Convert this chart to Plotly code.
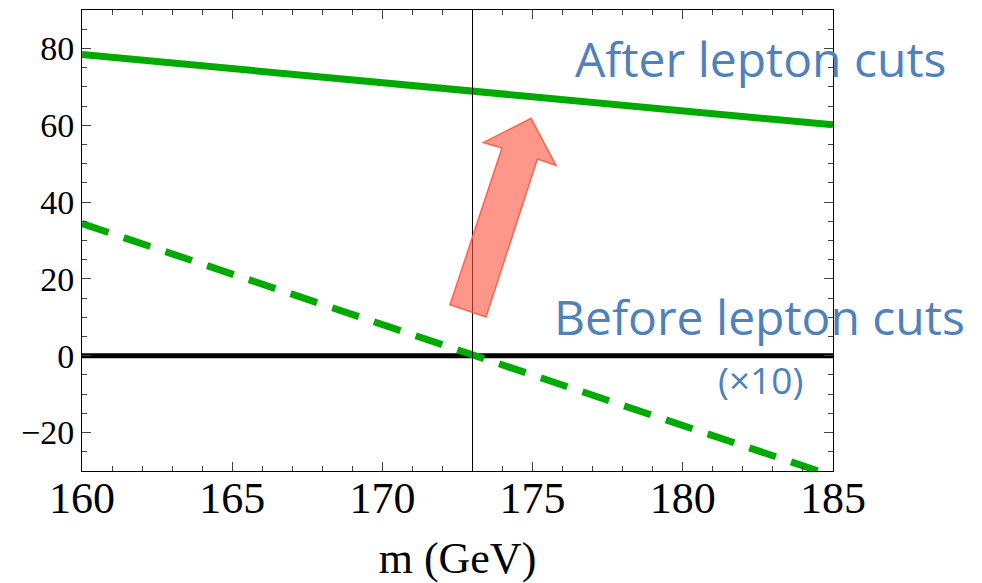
import plotly.graph_objects as go

# data
m_vals = [160, 185]
after_cuts = [78.4, 60.1]
before_cuts_x10 = [34.4, -31.3]
zero_line = [0, 0]
m_top = 173.0

x_ticks = [160, 165, 170, 175, 180, 185]
y_ticks = [-20, 0, 20, 40, 60, 80]

arrow_x = [172.25, 173.98, 173.36, 174.95, 175.78, 175.16, 173.45]
arrow_y = [13.27, 54.05, 55.5, 61.8, 49.55, 51.2, 10.09]

green = "#00aa00"
blue = "#4f81bd"

fig = go.Figure()
fig.add_trace(go.Scatter(x=m_vals, y=zero_line, mode="lines",
                         line=dict(color="black", width=5), hoverinfo="skip"))
fig.add_trace(go.Scatter(x=m_vals, y=before_cuts_x10, mode="lines",
                         line=dict(color=green, width=7, dash="28px,16px")))
fig.add_trace(go.Scatter(x=m_vals, y=after_cuts, mode="lines",
                         line=dict(color=green, width=7)))

fig.add_shape(type="line", x0=m_top, x1=m_top, y0=0, y1=1, xref="x", yref="paper",
              line=dict(color="black", width=1), layer="above")

path = "M " + " L ".join(f"{x},{y}" for x, y in zip(arrow_x, arrow_y)) + " Z"
fig.add_shape(type="path", path=path, xref="x", yref="y",
              fillcolor="rgba(255,80,60,0.6)", line=dict(color="rgba(250,90,70,0.9)", width=1.5),
              layer="above")

txt_font = "Open Sans"
fig.add_annotation(x=176.35, y=77.3, xref="x", yref="y", text="After lepton cuts",
                   showarrow=False, xanchor="left", yanchor="middle",
                   font=dict(family=txt_font, size=48, color=blue))
fig.add_annotation(x=175.65, y=10.3, xref="x", yref="y", text="Before lepton cuts",
                   showarrow=False, xanchor="left", yanchor="middle",
                   font=dict(family=txt_font, size=48, color=blue))
fig.add_annotation(x=182.6, y=-6.1, xref="x", yref="y", text="(×10)",
                   showarrow=False, xanchor="center", yanchor="middle",
                   font=dict(family=txt_font, size=37, color=blue))

axis_common = dict(showgrid=False, zeroline=False, showline=True, linecolor="black",
                   linewidth=1, mirror="allticks", ticks="inside", ticklen=9,
                   tickcolor="#444", tickwidth=1)

fig.update_xaxes(range=[160, 185], tickvals=x_ticks,
                 tickfont=dict(family="Liberation Serif", size=44, color="black"),
                 ticklabelstandoff=-12,
                 minor=dict(dtick=1, tick0=160, ticks="inside", ticklen=5, tickcolor="#444"),
                 title=dict(text="m (GeV)", font=dict(family="Liberation Serif", size=44, color="black"),
                            standoff=20),
                 **axis_common)
fig.update_yaxes(range=[-30, 90], tickvals=y_ticks,
                 tickfont=dict(family="Liberation Serif", size=34, color="black"),
                 minor=dict(dtick=5, tick0=0, ticks="inside", ticklen=5, tickcolor="#444"),
                 **axis_common)

fig.update_layout(width=982, height=583, margin=dict(l=82, r=149, t=9, b=110),
                  paper_bgcolor="white", plot_bgcolor="white", showlegend=False)

fig.write_html("out.html")
